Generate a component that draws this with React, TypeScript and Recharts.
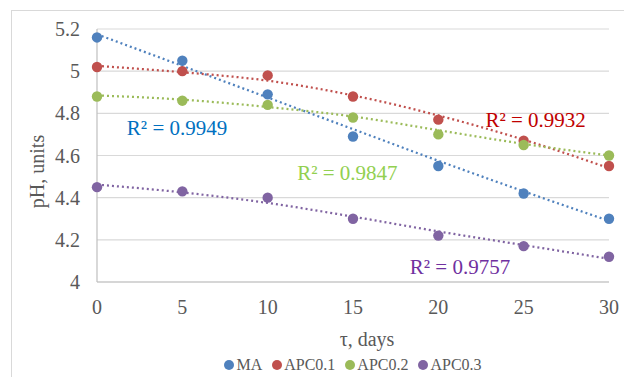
import React from "react";
import {
  CartesianGrid,
  ComposedChart,
  Legend,
  Line,
  ReferenceDot,
  Scatter,
  XAxis,
  YAxis,
} from "recharts";

// storage time, days
const days = [0, 5, 10, 15, 20, 25, 30];

// measured pH
const maPh = [5.16, 5.05, 4.89, 4.69, 4.55, 4.42, 4.3];
const apc01Ph = [5.02, 5.0, 4.98, 4.88, 4.77, 4.67, 4.55];
const apc02Ph = [4.88, 4.86, 4.84, 4.78, 4.7, 4.65, 4.6];
const apc03Ph = [4.45, 4.43, 4.4, 4.3, 4.22, 4.17, 4.12];

// trendline values
const maTrend = [5.175, 5.025, 4.875, 4.725, 4.575, 4.43, 4.29];
const apc01Trend = [5.025, 4.995, 4.955, 4.885, 4.79, 4.675, 4.54];
const apc02Trend = [4.885, 4.865, 4.83, 4.785, 4.72, 4.655, 4.6];
const apc03Trend = [4.462, 4.425, 4.375, 4.31, 4.24, 4.175, 4.11];

const seriesNames = ["MA", "APC0.1", "APC0.2", "APC0.3"];
const r2Labels = ["R² = 0.9949", "R² = 0.9932", "R² = 0.9847", "R² = 0.9757"];

const xTicks = [0, 5, 10, 15, 20, 25, 30];
const yTicks = [4, 4.2, 4.4, 4.6, 4.8, 5, 5.2];

const markerColors = ["#4f81bd", "#c0504d", "#9bbb59", "#8064a2"];
const labelColors = ["#0070c0", "#c00000", "#92d050", "#7030a0"];

const FONT = "Liberation Serif, serif";
const TEXT = "#595959";

const toPoints = (ys: number[]) => days.map((x, i) => ({ x, y: ys[i] }));

const measured = [maPh, apc01Ph, apc02Ph, apc03Ph].map(toPoints);
const trends = [maTrend, apc01Trend, apc02Trend, apc03Trend].map(toPoints);

// R² annotation anchors (data coordinates)
const r2Pos = [
  { x: 4.69, y: 4.73 },
  { x: 25.7, y: 4.768 },
  { x: 14.67, y: 4.517 },
  { x: 21.27, y: 4.073 },
];

function LegendContent() {
  return (
    <div
      style={{
        display: "flex",
        justifyContent: "center",
        alignItems: "center",
        fontFamily: FONT,
        fontSize: 16,
        color: TEXT,
        height: 24,
      }}
    >
      {seriesNames.map((name, i) => (
        <span
          key={name}
          style={{ display: "flex", alignItems: "center", marginRight: i < 3 ? 10 : 0 }}
        >
          <span
            style={{
              width: 10,
              height: 10,
              borderRadius: 5,
              background: markerColors[i],
              marginRight: 2,
            }}
          />
          {name}
        </span>
      ))}
    </div>
  );
}

export default function App() {
  return (
    <div
      style={{
        position: "absolute",
        left: 0,
        top: 0,
        width: 624,
        height: 377,
        background: "#fff",
        overflow: "hidden",
        fontFamily: FONT,
      }}
    >
      <div
        style={{
          position: "absolute",
          left: 11,
          top: 10,
          width: 700,
          height: 500,
          border: "1.5px solid #d9d9d9",
        }}
      />
      <ComposedChart
        width={624}
        height={377}
        margin={{ top: 29, right: 15, bottom: 0, left: 0 }}
      >
        <CartesianGrid vertical={false} stroke="#d9d9d9" strokeWidth={1.2} />
        <XAxis
          type="number"
          dataKey="x"
          domain={[0, 30]}
          ticks={xTicks}
          interval={0}
          tickLine={false}
          axisLine={{ stroke: "#bfbfbf", strokeWidth: 1.2 }}
          tick={{ fill: TEXT, fontSize: 20, fontFamily: FONT }}
          tickMargin={12}
          height={71}
          label={(props: any) => {
            const vb = props.viewBox;
            return (
              <text
                x={vb.x + vb.width / 2 + 14}
                y={vb.y + 64}
                textAnchor="middle"
                fill={TEXT}
                fontSize={20}
                fontFamily={FONT}
              >
                τ, days
              </text>
            );
          }}
        />
        <YAxis
          type="number"
          dataKey="y"
          domain={[4, 5.2]}
          ticks={yTicks}
          interval={0}
          tickLine={false}
          axisLine={{ stroke: "#bfbfbf", strokeWidth: 1.2 }}
          tick={{ fill: TEXT, fontSize: 20, fontFamily: FONT }}
          tickMargin={11}
          width={97}
          label={(props: any) => {
            const vb = props.viewBox;
            const cy = vb.y + vb.height / 2 + 16;
            return (
              <text
                x={37}
                y={cy}
                transform={`rotate(-90, 37, ${cy})`}
                textAnchor="middle"
                dominantBaseline="central"
                fill={TEXT}
                fontSize={20}
                fontFamily={FONT}
              >
                pH, units
              </text>
            );
          }}
        />
        {trends.map((data, i) => (
          <Line
            key={"t" + i}
            data={data}
            dataKey="y"
            type="monotone"
            stroke={markerColors[i]}
            strokeWidth={2.25}
            strokeDasharray="2 3"
            dot={false}
            activeDot={false}
            legendType="none"
            isAnimationActive={false}
          />
        ))}
        {measured.map((data, i) => (
          <Scatter
            key={"s" + i}
            name={seriesNames[i]}
            data={data}
            fill={markerColors[i]}
            shape={(p: any) => <circle cx={p.cx} cy={p.cy} r={5.2} fill={markerColors[i]} />}
            isAnimationActive={false}
          />
        ))}
        {r2Pos.map((p, i) => (
          <ReferenceDot
            key={"r" + i}
            x={p.x}
            y={p.y}
            r={0}
            label={(props: any) => {
              const vb = props.viewBox;
              return (
                <text
                  x={vb.x + vb.width / 2}
                  y={vb.y + vb.height / 2}
                  textAnchor="middle"
                  dominantBaseline="central"
                  fill={labelColors[i]}
                  fontSize={21}
                  fontFamily={FONT}
                >
                  {r2Labels[i]}
                </text>
              );
            }}
          />
        ))}
        <Legend
          verticalAlign="bottom"
          height={24}
          wrapperStyle={{ left: 97, width: 512 }}
          content={() => <LegendContent />}
        />
      </ComposedChart>
    </div>
  );
}
